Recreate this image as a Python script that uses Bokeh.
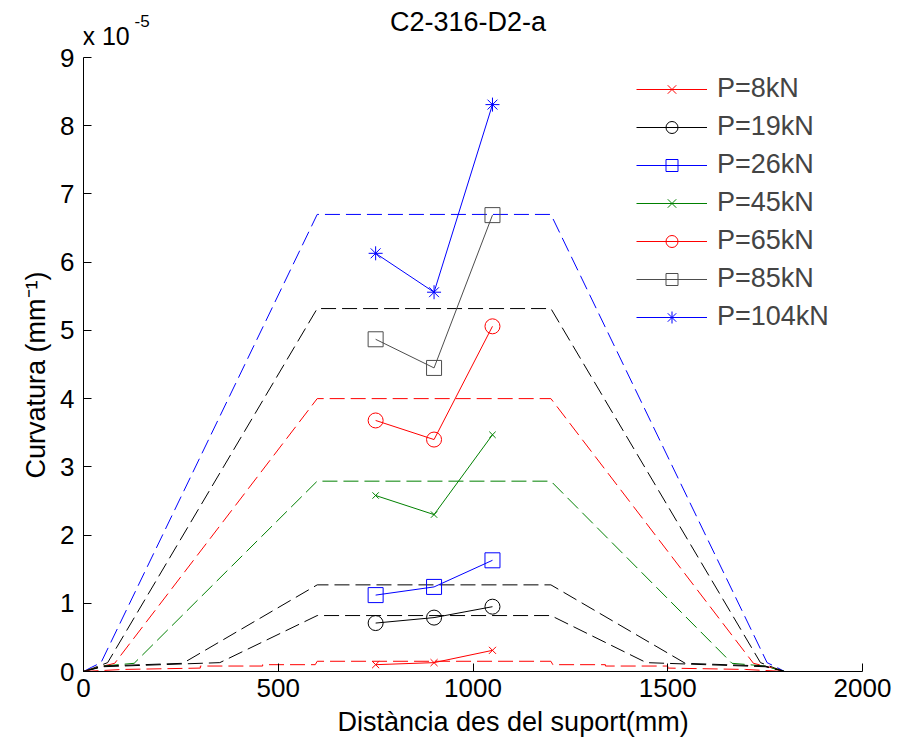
from bokeh.plotting import figure
from bokeh.models import Label, Range1d, FixedTicker, Legend, Title
from bokeh.embed import file_html
from bokeh.resources import INLINE

# ---------------- data (curvature in units of 1e-5 mm^-1) ----------------
x_exp = [750, 900, 1050]

labels = ["P=8kN", "P=19kN", "P=26kN", "P=45kN", "P=65kN", "P=85kN", "P=104kN"]
y_p8 = [0.10, 0.13, 0.31]
y_p19 = [0.71, 0.79, 0.95]
y_p26 = [1.12, 1.24, 1.63]
y_p45 = [2.58, 2.30, 3.47]
y_p65 = [3.68, 3.40, 5.06]
y_p85 = [4.87, 4.45, 6.69]
y_p104 = [6.13, 5.56, 8.31]

# theoretical (dashed) curves
tx_104 = [0, 20, 45, 600, 1200, 1755, 1780, 1800]
ty_104 = [0, 0.06, 0.13, 6.70, 6.70, 0.13, 0.06, 0]
tx_85 = [0, 25, 62, 600, 1200, 1738, 1775, 1800]
ty_85 = [0, 0.05, 0.13, 5.32, 5.32, 0.13, 0.05, 0]
tx_65 = [0, 30, 80, 600, 1200, 1720, 1770, 1800]
ty_65 = [0, 0.05, 0.12, 4.00, 4.00, 0.12, 0.05, 0]
tx_45 = [0, 50, 130, 600, 1200, 1665, 1750, 1800]
ty_45 = [0, 0.08, 0.12, 2.79, 2.79, 0.12, 0.08, 0]
tx_26 = [0, 50, 255, 600, 1200, 1545, 1750, 1800]
ty_26 = [0, 0.08, 0.12, 1.27, 1.27, 0.12, 0.08, 0]
tx_19 = [0, 50, 350, 600, 1200, 1445, 1750, 1800]
ty_19 = [0, 0.07, 0.13, 0.82, 0.82, 0.13, 0.07, 0]
tx_8 = [0, 100, 300, 300, 460, 460, 595, 600, 1200, 1205, 1340, 1340, 1500, 1500, 1700, 1800]
ty_8 = [0, 0.03, 0.05, 0.08, 0.08, 0.10, 0.10, 0.15, 0.15, 0.10, 0.10, 0.08, 0.08, 0.05, 0.03, 0]

x_ticks = [0, 500, 1000, 1500, 2000]
y_ticks = [0, 1, 2, 3, 4, 5, 6, 7, 8, 9]

FONT = "Liberation Sans"
Y_TOP = 9.836  # visible headroom above the axis (axis itself bounded to 0..9)

p = figure(width=897, height=745, output_backend="svg", toolbar_location=None,
           x_range=Range1d(0, 2000), y_range=Range1d(0, Y_TOP),
           min_border_left=83, min_border_right=35, min_border_top=0, min_border_bottom=74)
p.outline_line_color = None
p.xgrid.visible = False
p.ygrid.visible = False
p.background_fill_color = "white"
p.border_fill_color = "white"

for ax in (p.xaxis[0], p.yaxis[0]):
    ax.major_tick_in = 8
    ax.major_tick_out = 0
    ax.minor_tick_line_color = None
    ax.major_label_text_font = FONT
    ax.major_label_text_font_size = "26px"
    ax.axis_line_color = "black"
    ax.major_tick_line_color = "black"
    ax.major_label_text_color = "black"

p.yaxis.bounds = (0, 9)
p.xaxis.ticker = FixedTicker(ticks=x_ticks)
p.yaxis.ticker = FixedTicker(ticks=y_ticks)
p.xaxis.major_label_standoff = 7
p.yaxis.major_label_standoff = 9

# axis titles as side titles (so they can be shifted along the side)
p.add_layout(Title(text="Distància des del suport(mm)", align="left", offset=254, standoff=10,
                   text_font=FONT, text_font_size="27px", text_font_style="normal",
                   text_color="black"), "below")
p.add_layout(Title(text="Curvatura (mm⁻¹)", align="left", offset=193, standoff=13,
                   text_font=FONT, text_font_size="27px", text_font_style="normal",
                   text_color="black"), "left")

# dashed theoretical curves
dash = "15 6"
theo = [(tx_104, ty_104, "#0000ff"), (tx_85, ty_85, "#000000"), (tx_65, ty_65, "#ff0000"),
        (tx_45, ty_45, "#008000"), (tx_26, ty_26, "#000000"), (tx_19, ty_19, "#000000"),
        (tx_8, ty_8, "#ff0000")]
for tx, ty, c in theo:
    p.line(tx, ty, line_color=c, line_width=1, line_dash=dash)

series = [
    (y_p8, "#ff0000", "x", 10),
    (y_p19, "#000000", "circle", 15),
    (y_p26, "#0000ff", "square", 15),
    (y_p45, "#008000", "x", 9),
    (y_p65, "#ff0000", "circle", 15),
    (y_p85, "#4d4d4d", "square", 15),
    (y_p104, "#0000ff", "asterisk", 14),
]
items = []
for (ys, c, m, s), lab in zip(series, labels):
    r1 = p.line(x_exp, ys, line_color=c, line_width=1)
    r2 = p.scatter(x_exp, ys, marker=m, size=s, line_color=c, fill_color=None, line_width=1)
    items.append((lab, [r1, r2]))

legend = Legend(items=items, location=(553, 339))
legend.border_line_color = None
legend.background_fill_alpha = 0
legend.padding = 0
legend.margin = 0
legend.spacing = 7
legend.glyph_width = 71
legend.glyph_height = 30
legend.label_height = 30
legend.label_standoff = 10
legend.label_text_font = FONT
legend.label_text_font_size = "27px"
p.add_layout(legend)

# title and exponent (in the headroom above the bounded axis)
p.add_layout(Label(x=1000, y=9.52, x_offset=-5, text="C2-316-D2-a", text_align="center",
                   text_baseline="alphabetic", text_font=FONT, text_font_size="27px", text_color="black"))
p.add_layout(Label(x=0, y=9.31, x_offset=-1, text="x 10", text_align="left", text_baseline="alphabetic",
                   text_font=FONT, text_font_size="25px", text_color="black"))
p.add_layout(Label(x=131, y=9.53, text="-5", text_align="left", text_baseline="alphabetic",
                   text_font=FONT, text_font_size="17px", text_color="black"))

open("out.html", "w").write(file_html(p, INLINE))
